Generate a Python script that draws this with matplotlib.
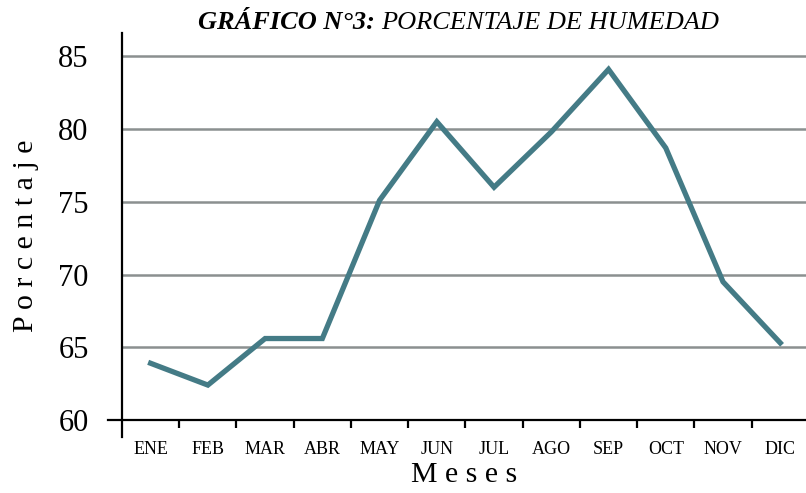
import matplotlib
matplotlib.use("Agg")
import matplotlib.pyplot as plt
from matplotlib.lines import Line2D
import numpy as np

months = ["ENE", "FEB", "MAR", "ABR", "MAY", "JUN", "JUL", "AGO", "SEP", "OCT", "NOV", "DIC"]
humidity = [63.9, 62.4, 65.6, 65.6, 75.1, 80.5, 76.0, 79.8, 84.1, 78.7, 69.5, 65.3]
yticks = [60, 65, 70, 75, 80, 85]

W, H = 806, 493
fig = plt.figure(figsize=(W / 100, H / 100), dpi=100)
left, right, bottom, top = 122, 806, 420, 33
ax = fig.add_axes([left / W, 1 - bottom / H, (right - left) / W, (bottom - top) / H])

serif = "Liberation Serif"
x = np.arange(len(months))

for yv in yticks[1:]:
    ax.axhline(yv, color="#8b9090", lw=1.8, zorder=1)

ax.plot(x, humidity, color="#447b86", lw=3.8, solid_joinstyle="miter", zorder=3)

ax.set_xlim(-0.5, 11.45)
ax.set_ylim(60, 86.6)

for s in ax.spines.values():
    s.set_visible(False)

# axis lines, extended past each other
ax.add_line(Line2D([-0.021, 1], [0, 0], transform=ax.transAxes, color="black", lw=1.6, clip_on=False))
ax.add_line(Line2D([0, 0], [-0.044, 1], transform=ax.transAxes, color="black", lw=1.6, clip_on=False))

ax.set_xticks(x)
ax.set_xticklabels(months, fontfamily=serif, fontsize=13)
ax.set_xticks(np.arange(0.5, 11, 1), minor=True)
ax.tick_params(axis="x", which="major", length=0, pad=15)
ax.tick_params(axis="x", which="minor", length=6, width=1.6, direction="out", color="black")

ax.set_yticks(yticks)
ax.set_yticklabels([str(v) for v in yticks], fontfamily=serif, fontsize=22)
ax.tick_params(axis="y", length=0, pad=24)

ax.set_xlabel("M e s e s", fontfamily=serif, fontsize=21.5)
ax.xaxis.set_label_coords(0.5, -0.108)
ax.set_ylabel("P o r c e n t a j e", fontfamily=serif, fontsize=21.5)
ax.yaxis.set_label_coords(-0.122, 0.475)

t1 = fig.text(198 / W, 1 - 29 / H, "GRÁFICO N°3:", fontfamily=serif, fontsize=19,
              fontweight="bold", fontstyle="italic", ha="left", va="baseline")
fig.canvas.draw()
bb = t1.get_window_extent()
fig.text(bb.x1 / W + 6 / W, 1 - 29 / H, "PORCENTAJE DE HUMEDAD", fontfamily=serif,
         fontsize=19, fontstyle="italic", ha="left", va="baseline")

fig.savefig("out.png", dpi=100)
